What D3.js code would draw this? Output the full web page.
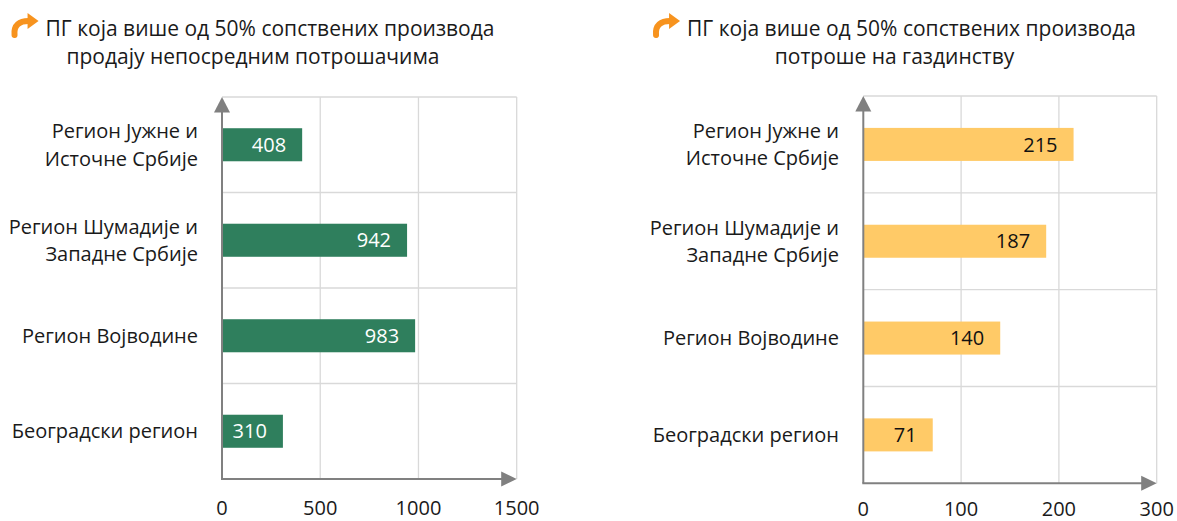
<!DOCTYPE html>
<html>
<head>
<meta charset="utf-8">
<script src="https://cdn.jsdelivr.net/npm/d3@7/dist/d3.min.js"></script>
<style>
  html, body { margin: 0; padding: 0; background: #ffffff; }
  svg { display: block; }
  text { font-family: "Open Sans", "Noto Sans", sans-serif; fill: #1a1a1a; }
</style>
</head>
<body>
<svg id="chart" width="1177" height="521"></svg>
<script>
// Regions, top to bottom ("\n" marks a line break in the label)
const regions = [
  "Регион Јужне и\nИсточне Србије",
  "Регион Шумадије и\nЗападне Србије",
  "Регион Војводине",
  "Београдски регион"
];

// Farms selling more than 50% of own produce directly to consumers
const directSales = [408, 942, 983, 310];
// Farms consuming more than 50% of own produce on the farm
const ownConsumption = [215, 187, 140, 71];

const ticksLeft = [0, 500, 1000, 1500];
const ticksRight = [0, 100, 200, 300];

const titleLeft = ["ПГ која више од 50% сопствених производа", "продају непосредним потрошачима"];
const titleRight = ["ПГ која више од 50% сопствених производа", "потроше на газдинству"];

const svg = d3.select("#chart");
const FONT = 20;

function drawPanel(cfg) {
  const g = svg.append("g");

  const x = d3.scaleLinear().domain([0, cfg.ticks[cfg.ticks.length - 1]]).range([cfg.x0, cfg.x1]);
  const y = d3.scaleBand().domain(regions).range([cfg.yTop, cfg.yBottom])
    .paddingInner(cfg.pad).paddingOuter(cfg.pad / 2);
  const step = y.step();

  // gridlines
  const grid = g.append("g").attr("stroke", "#d9d9d9").attr("stroke-width", 1.3);
  regions.forEach((r, i) => {
    const yy = cfg.yTop + i * step;
    grid.append("line").attr("x1", cfg.x0).attr("x2", cfg.x1).attr("y1", yy).attr("y2", yy);
  });
  cfg.ticks.slice(1).forEach(t => {
    grid.append("line").attr("x1", x(t)).attr("x2", x(t)).attr("y1", cfg.yTop).attr("y2", cfg.yBottom);
  });

  // bars
  g.append("g").selectAll("rect").data(cfg.values).join("rect")
    .attr("x", x(0))
    .attr("y", (d, i) => y(regions[i]))
    .attr("width", d => x(d) - x(0))
    .attr("height", y.bandwidth())
    .attr("fill", cfg.color);

  // value labels, inside the bar end
  g.append("g").selectAll("text").data(cfg.values).join("text")
    .attr("x", d => x(d) - 16)
    .attr("y", (d, i) => y(regions[i]) + y.bandwidth() / 2)
    .attr("dy", "0.36em")
    .attr("text-anchor", "end")
    .style("font-size", FONT + "px")
    .style("fill", cfg.labelColor)
    .text(d => d);

  // axes with arrowheads
  const ax = g.append("g");
  ax.append("line").attr("x1", x(0)).attr("x2", x(0))
    .attr("y1", cfg.yBottom).attr("y2", cfg.yTop + 8)
    .attr("stroke", "#808080").attr("stroke-width", 2);
  ax.append("line").attr("x1", x(0) - 1).attr("x2", cfg.x1 - 8)
    .attr("y1", cfg.yBottom).attr("y2", cfg.yBottom)
    .attr("stroke", "#808080").attr("stroke-width", 2);
  ax.append("path")
    .attr("d", `M${x(0)},${cfg.yTop} L${x(0) - 8},${cfg.yTop + 15.5} L${x(0) + 8},${cfg.yTop + 15.5} Z`)
    .attr("fill", "#808080");
  ax.append("path")
    .attr("d", `M${cfg.x1},${cfg.yBottom} L${cfg.x1 - 15.5},${cfg.yBottom - 7.5} L${cfg.x1 - 15.5},${cfg.yBottom + 7.5} Z`)
    .attr("fill", "#808080");

  // x tick labels
  g.append("g").selectAll("text").data(cfg.ticks).join("text")
    .attr("x", d => x(d))
    .attr("y", cfg.tickY)
    .attr("text-anchor", "middle")
    .style("font-size", FONT + "px")
    .text(d => d);

  // category labels
  const lh = 27.5;
  regions.forEach((r, i) => {
    const lines = r.split("\n");
    const cy = y(r) + y.bandwidth() / 2;
    const t = g.append("text")
      .attr("text-anchor", "end")
      .style("font-size", FONT + "px");
    lines.forEach((ln, k) => {
      t.append("tspan")
        .attr("x", cfg.labelX)
        .attr("y", cy + (k - (lines.length - 1) / 2) * lh)
        .attr("dy", "0.36em")
        .text(ln);
    });
  });

  // title with curved arrow icon
  const tg = g.append("g");
  const t1 = tg.append("text").attr("y", 36).style("font-size", "21px").text(cfg.title[0]);
  const w1 = t1.node().getComputedTextLength();
  const iconW = 34;
  const startX = cfg.titleCx - (w1 + iconW) / 2;
  t1.attr("x", startX + iconW);
  tg.append("text").attr("x", cfg.titleCx).attr("y", 64)
    .attr("text-anchor", "middle").style("font-size", "21px").text(cfg.title[1]);
  const ix = startX, iy = 13;
  tg.append("path")
    .attr("d", `M${ix + 3},${iy + 22} C${ix + 2},${iy + 12} ${ix + 8},${iy + 8} ${ix + 17},${iy + 8}`)
    .attr("fill", "none").attr("stroke", "#F7931E").attr("stroke-width", 6).attr("stroke-linecap", "round");
  tg.append("path")
    .attr("d", `M${ix + 16},${iy} L${ix + 27},${iy + 8} L${ix + 16},${iy + 16} Z`)
    .attr("fill", "#F7931E");
}

drawPanel({
  values: directSales, ticks: ticksLeft, color: "#2F7F5D", labelColor: "#ffffff",
  x0: 222, x1: 516.7, yTop: 97, yBottom: 479, pad: 0.654, labelX: 198,
  tickY: 515, title: titleLeft, titleCx: 253
});

drawPanel({
  values: ownConsumption, ticks: ticksRight, color: "#FFCA67", labelColor: "#111111",
  x0: 863.3, x1: 1156.7, yTop: 96, yBottom: 483.3, pad: 0.659, labelX: 839,
  tickY: 515.5, title: titleRight, titleCx: 894.5
});
</script>
</body>
</html>
